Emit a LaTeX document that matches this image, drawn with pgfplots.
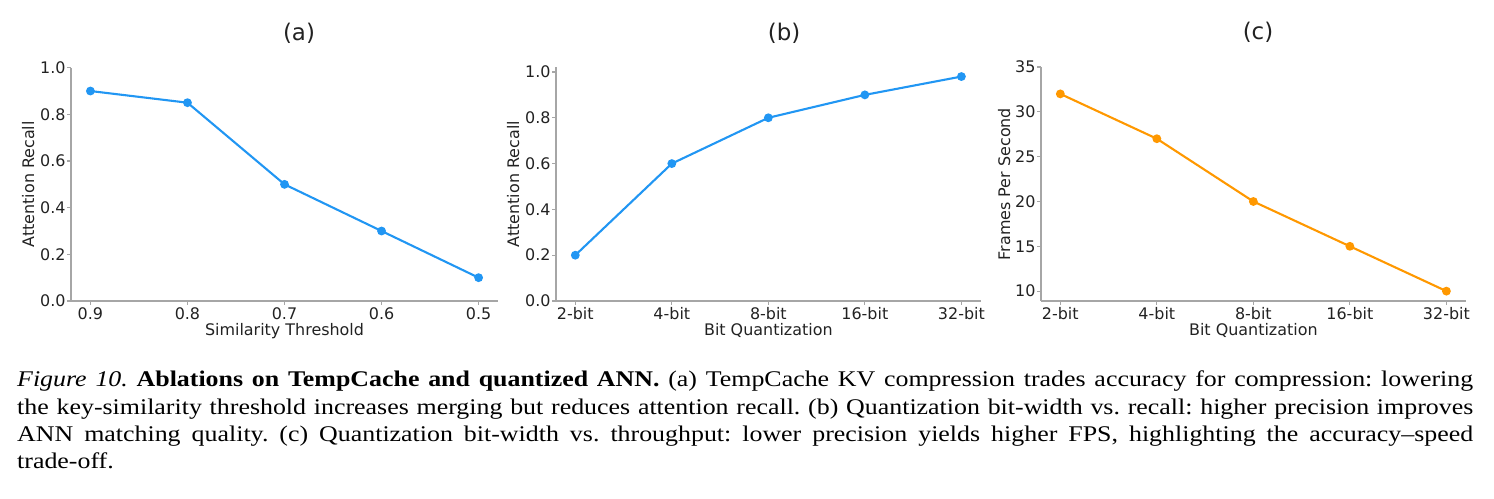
\documentclass[border=0pt]{standalone}
\usepackage{fontspec}
\setmainfont{Liberation Serif}
\newfontfamily\plotfont{DejaVu Sans}
\usepackage{pgfplots}
\pgfplotsset{compat=1.18}

\definecolor{lineblue}{HTML}{2196F3}
\definecolor{lineorange}{HTML}{FF9800}
\definecolor{spinegray}{HTML}{A6A6A6}
\definecolor{inkgray}{HTML}{222222}

% recall vs. similarity threshold (0.9, 0.8, 0.7, 0.6, 0.5)
\pgfplotstableread{
idx recall
0 0.90
1 0.85
2 0.50
3 0.30
4 0.10
}\thresholdtable

% recall vs. bit width (2, 4, 8, 16, 32)
\pgfplotstableread{
idx recall
0 0.20
1 0.60
2 0.80
3 0.90
4 0.98
}\bitrecalltable

% throughput vs. bit width (2, 4, 8, 16, 32)
\pgfplotstableread{
idx fps
0 32
1 27
2 20
3 15
4 10
}\bitfpstable

\pgfplotsset{
  panel/.style={
    scale only axis,
    axis x line*=bottom, axis y line*=left,
    axis line style={spinegray, line width=1.3bp},
    tick style={spinegray, line width=1.1bp},
    major tick length=4bp, tick align=outside,
    xtick=data, xmin=-0.2, xmax=4.2,
    every tick label/.append style={font=\fontsize{16}{19}\selectfont\plotfont, text=inkgray},
    /pgf/number format/assume math mode=true,
    xticklabel style={yshift=1bp},
    yticklabel style={xshift=2bp},
    label style={font=\fontsize{16}{19}\selectfont\plotfont, text=inkgray},
    title style={font=\fontsize{23}{27}\selectfont\plotfont, text=inkgray, anchor=center},
    xlabel style={at={(axis description cs:0.5,-0.128)}, anchor=center},
    clip=false,
  },
  curve/.style={line width=2.1bp, color=#1, mark=*, mark size=3.3bp,
    mark options={solid, fill=#1, draw=#1}},
}

\begin{document}
\begin{tikzpicture}
\path[use as bounding box] (0,0) rectangle (1494bp,499bp);

% (a) threshold sweep
\begin{axis}[panel,
  at={(71bp,198bp)}, anchor=south west,
  width=427bp, height=233.3bp,
  ymin=0, ymax=1.0,
  ytick={0,0.2,0.4,0.6,0.8,1.0},
  yticklabel style={/pgf/number format/.cd, fixed, fixed zerofill, precision=1},
  xticklabels={0.9,0.8,0.7,0.6,0.5},
  xlabel={Similarity Threshold},
  ylabel={Attention Recall},
  ylabel style={at={(axis description cs:-0.1,0.5)}, anchor=center},
  title={(a)},
  title style={at={(axis description cs:0.534,1.123)}},
]
\addplot[curve=lineblue] table[x=idx, y=recall] {\thresholdtable};
\end{axis}

% (b) bit width vs. recall
\begin{axis}[panel,
  at={(556bp,198bp)}, anchor=south west,
  width=424.7bp, height=233.6bp,
  ymin=0, ymax=1.02,
  ytick={0,0.2,0.4,0.6,0.8,1.0},
  yticklabel style={/pgf/number format/.cd, fixed, fixed zerofill, precision=1},
  xticklabels={2-bit,4-bit,8-bit,16-bit,32-bit},
  xlabel={Bit Quantization},
  ylabel={Attention Recall},
  ylabel style={at={(axis description cs:-0.101,0.5)}, anchor=center},
  title={(b)},
  title style={at={(axis description cs:0.537,1.122)}},
]
\addplot[curve=lineblue] table[x=idx, y=recall] {\bitrecalltable};
\end{axis}

% (c) bit width vs. throughput
\begin{axis}[panel,
  at={(1041bp,198bp)}, anchor=south west,
  width=424.7bp, height=234bp,
  ymin=8.9, ymax=35,
  ytick={10,15,20,25,30,35},
  xticklabels={2-bit,4-bit,8-bit,16-bit,32-bit},
  xlabel={Bit Quantization},
  ylabel={Frames Per Second},
  ylabel style={at={(axis description cs:-0.087,0.5)}, anchor=center},
  title={(c)},
  title style={at={(axis description cs:0.511,1.122)}},
]
\addplot[curve=lineorange] table[x=idx, y=fps] {\bitfpstable};
\end{axis}

% caption (set wide, then compressed vertically)
\node[anchor=north west, inner sep=0pt, yscale=0.865, text width=1456bp, align=justify,
      font=\fontsize{26}{31.4}\selectfont\frenchspacing] at (17bp,128bp)
{\textit{Figure 10.} \textbf{Ablations on TempCache and quantized ANN.} (a) TempCache KV compression trades accuracy for compression: lowering\linebreak
the key-similarity threshold increases merging but reduces attention recall. (b) Quantization bit-width vs.\ recall: higher precision improves\linebreak
ANN matching quality. (c) Quantization bit-width vs.\ throughput: lower precision yields higher FPS, highlighting the accuracy\textendash speed\linebreak
trade-off.};
\end{tikzpicture}
\end{document}
